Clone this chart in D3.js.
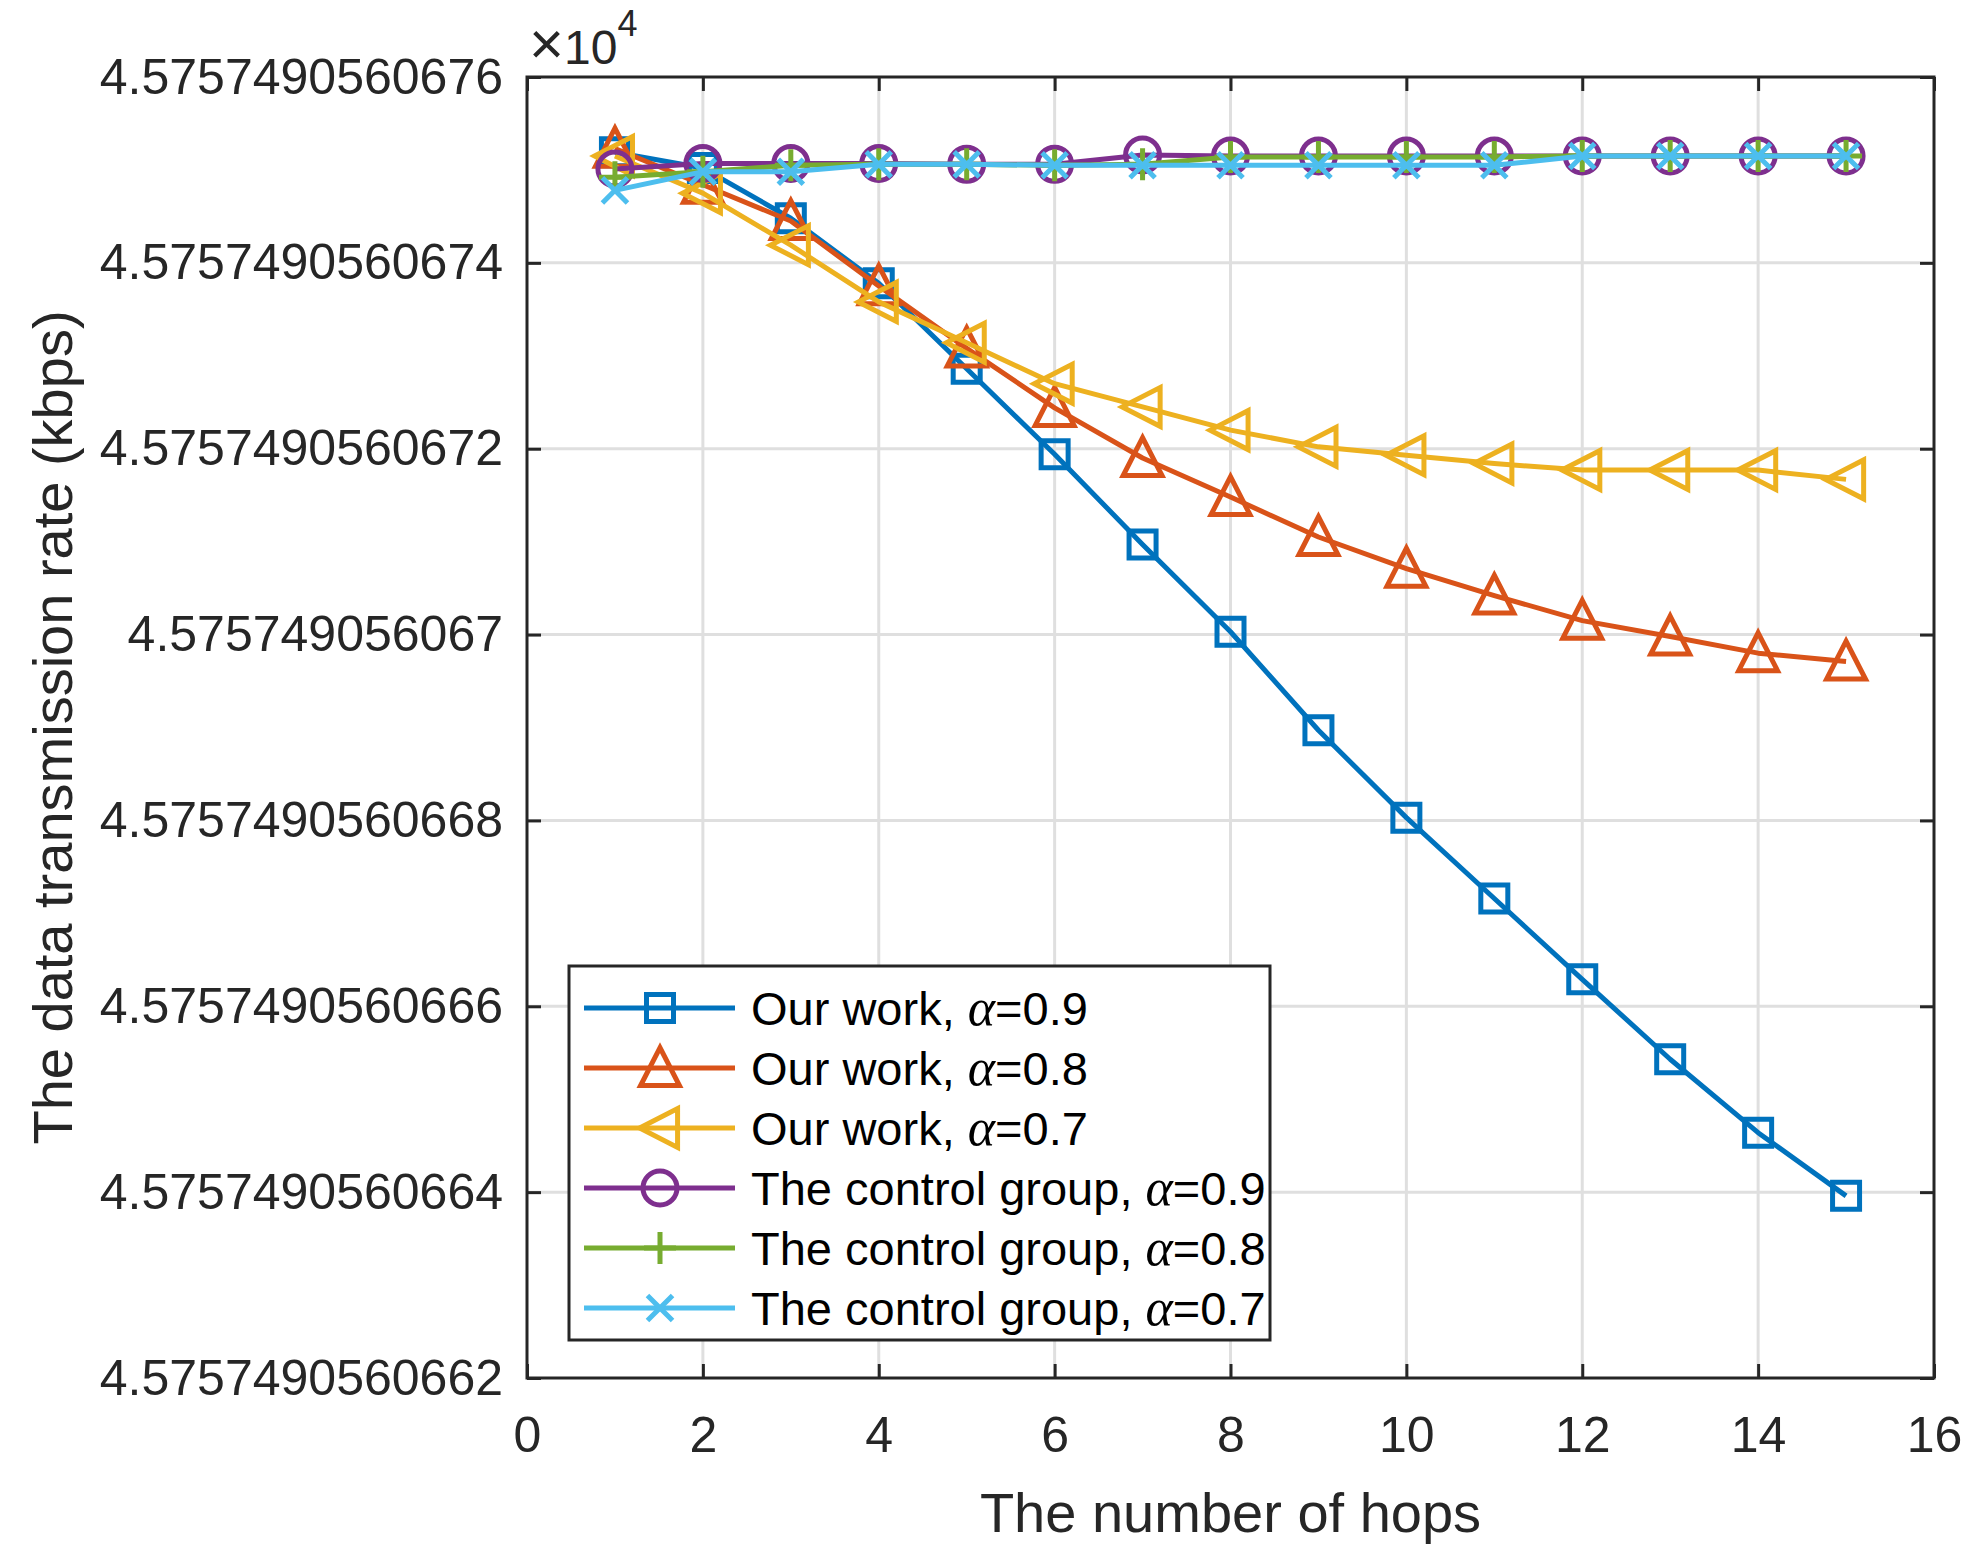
<!DOCTYPE html>
<html>
<head>
<meta charset="utf-8">
<script src="https://cdn.jsdelivr.net/npm/d3@7"></script>
<style>
  body { margin: 0; background: #fff; }
  text { font-family: 'Liberation Sans', Arial, sans-serif; }
</style>
</head>
<body>
<svg id="chart"></svg>
<script>
// values are the last digits of the y tick labels: y = 4.57574905606 + v * 1e-13 (x 10^4)
const hops = [1, 2, 3, 4, 5, 6, 7, 8, 9, 10, 11, 12, 13, 14, 15];
const ourWork09 = [75.19, 75.02, 74.48, 73.78, 72.86, 71.94, 70.97, 70.03, 68.97, 68.03, 67.16, 66.29, 65.43, 64.64, 63.96];
const ourWork08 = [75.23, 74.84, 74.45, 73.75, 73.08, 72.44, 71.90, 71.48, 71.05, 70.71, 70.42, 70.15, 69.98, 69.80, 69.71];
const ourWork07 = [75.15, 74.75, 74.19, 73.58, 73.14, 72.70, 72.45, 72.20, 72.02, 71.93, 71.84, 71.77, 71.77, 71.77, 71.67];
const control09 = [75.01, 75.07, 75.07, 75.07, 75.06, 75.06, 75.16, 75.15, 75.15, 75.15, 75.15, 75.15, 75.15, 75.15, 75.15];
const control08 = [74.92, 74.98, 75.05, 75.06, 75.06, 75.05, 75.06, 75.14, 75.14, 75.14, 75.14, 75.15, 75.15, 75.15, 75.15];
const control07 = [74.78, 74.98, 74.98, 75.06, 75.06, 75.05, 75.05, 75.05, 75.05, 75.05, 75.05, 75.15, 75.15, 75.15, 75.15];

const xTicks = [0, 2, 4, 6, 8, 10, 12, 14, 16];
const yTicks = [62, 64, 66, 68, 70, 72, 74, 76];
const yTickLabels = ['4.5757490560662', '4.5757490560664', '4.5757490560666', '4.5757490560668',
  '4.575749056067', '4.5757490560672', '4.5757490560674', '4.5757490560676'];

const seriesNames = ['Our work, ', 'Our work, ', 'Our work, ', 'The control group, ', 'The control group, ', 'The control group, '];
const alphas = ['0.9', '0.8', '0.7', '0.9', '0.8', '0.7'];
const seriesData = [ourWork09, ourWork08, ourWork07, control09, control08, control07];
const markers = ['square', 'triangle', 'left', 'circle', 'plus', 'times'];
const colors = ['#0072BD', '#D95319', '#EDB120', '#7E2F8E', '#77AC30', '#4DBEEE'];

const width = 1977, height = 1567;
const margin = { left: 527, right: 43, top: 77, bottom: 189 };
const axisColor = '#262626';

let svg = d3.select('#chart').attr('width', width).attr('height', height);

let x = d3.scaleLinear().domain([0, 16]).range([margin.left, width - margin.right]);
let y = d3.scaleLinear().domain([62, 76]).range([height - margin.bottom, margin.top]);

// grid
let grid = svg.append('g');
grid.selectAll('.gx').data(xTicks.slice(1, -1)).enter().append('line')
  .attr('x1', d => x(d)).attr('x2', d => x(d))
  .attr('y1', y(62)).attr('y2', y(76))
  .attr('stroke', '#dfdfdf').attr('stroke-width', 3);
grid.selectAll('.gy').data(yTicks.slice(1, -1)).enter().append('line')
  .attr('y1', d => y(d)).attr('y2', d => y(d))
  .attr('x1', x(0)).attr('x2', x(16))
  .attr('stroke', '#dfdfdf').attr('stroke-width', 3);

// axes
function styleAxis(g) {
  g.select('.domain').remove();
  g.selectAll('.tick line').attr('stroke', axisColor).attr('stroke-width', 3);
  g.selectAll('.tick text').attr('fill', axisColor).style('font-size', '50px');
}
svg.append('g').attr('transform', 'translate(0,' + y(62) + ')')
  .call(d3.axisBottom(x).tickValues(xTicks).tickSize(-14).tickPadding(38).tickFormat(d3.format('d')))
  .call(styleAxis);
svg.append('g').attr('transform', 'translate(0,' + y(76) + ')')
  .call(d3.axisTop(x).tickValues(xTicks).tickSize(-14).tickFormat(''))
  .call(styleAxis);
svg.append('g').attr('transform', 'translate(' + x(0) + ',0)')
  .call(d3.axisLeft(y).tickValues(yTicks).tickSize(-14).tickPadding(24).tickFormat((d, i) => yTickLabels[i]))
  .call(styleAxis);
svg.append('g').attr('transform', 'translate(' + x(16) + ',0)')
  .call(d3.axisRight(y).tickValues(yTicks).tickSize(-14).tickFormat(''))
  .call(styleAxis);

svg.append('rect')
  .attr('x', x(0)).attr('y', y(76))
  .attr('width', x(16) - x(0)).attr('height', y(62) - y(76))
  .attr('fill', 'none').attr('stroke', axisColor).attr('stroke-width', 3);

// exponent
let expo = svg.append('text').attr('x', x(0) + 2).attr('y', 64).attr('fill', axisColor).style('font-size', '48px');
expo.append('tspan').style('font-size', '60px').text('\u00d7');
expo.append('tspan').text('10');
expo.append('tspan').attr('dy', -28).style('font-size', '36px').text('4');

// axis titles
svg.append('text')
  .attr('x', (x(0) + x(16)) / 2).attr('y', 1532)
  .attr('text-anchor', 'middle').attr('fill', axisColor)
  .style('font-size', '56px').text('The number of hops');
svg.append('text')
  .attr('transform', 'translate(72,' + (y(62) + y(76)) / 2 + ') rotate(-90)')
  .attr('text-anchor', 'middle').attr('fill', axisColor)
  .style('font-size', '56px').text('The data transmission rate (kbps)');

// markers
function markerPath(type, s) {
  let h = s / 2;
  switch (type) {
    case 'square': return `M${-h},${-h}H${h}V${h}H${-h}Z`;
    case 'triangle': return `M0,${-h * 1.1}L${h * 1.05},${h * 0.95}H${-h * 1.05}Z`;
    case 'left': return `M${-h * 1.1},0L${h * 0.95},${-h * 1.05}V${h * 1.05}Z`;
    case 'circle': return `M${h},0A${h},${h} 0 1,1 ${-h},0A${h},${h} 0 1,1 ${h},0Z`;
    case 'plus': return `M0,${-h}V${h}M${-h},0H${h}`;
    case 'times': { let k = h * 0.66; return `M${-k},${-k}L${k},${k}M${-k},${k}L${k},${-k}`; }
  }
}
const markerSize = { square: 27, triangle: 37, left: 37, circle: 34, plus: 32, times: 38 };

let line = d3.line().x((d, i) => x(hops[i])).y(d => y(d));

seriesData.forEach((vals, k) => {
  let g = svg.append('g');
  g.append('path').attr('d', line(vals))
    .attr('fill', 'none').attr('stroke', colors[k]).attr('stroke-width', 5)
    .attr('stroke-linejoin', 'round');
  g.selectAll('.m').data(vals).enter().append('path')
    .attr('transform', (d, i) => 'translate(' + x(hops[i]) + ',' + y(d) + ')')
    .attr('d', markerPath(markers[k], markerSize[markers[k]]))
    .attr('fill', 'none').attr('stroke', colors[k]).attr('stroke-width', 5);
});

// legend
let lg = svg.append('g');
lg.append('rect').attr('x', 569).attr('y', 966).attr('width', 701).attr('height', 374)
  .attr('fill', '#fff').attr('stroke', axisColor).attr('stroke-width', 3);
seriesNames.forEach((name, k) => {
  let ly = 1008 + k * 60;
  lg.append('line').attr('x1', 584).attr('x2', 735).attr('y1', ly).attr('y2', ly)
    .attr('stroke', colors[k]).attr('stroke-width', 5);
  lg.append('path').attr('transform', 'translate(660,' + ly + ')')
    .attr('d', markerPath(markers[k], markerSize[markers[k]]))
    .attr('fill', 'none').attr('stroke', colors[k]).attr('stroke-width', 5);
  let t = lg.append('text').attr('x', 751).attr('y', ly + 17).attr('fill', '#000').style('font-size', '47px');
  t.append('tspan').text(name);
  t.append('tspan').style('font-family', "'Liberation Serif', serif").style('font-style', 'italic')
    .style('font-size', '52px').text('\u03b1');
  t.append('tspan').text('=' + alphas[k]);
});
</script>
</body>
</html>
